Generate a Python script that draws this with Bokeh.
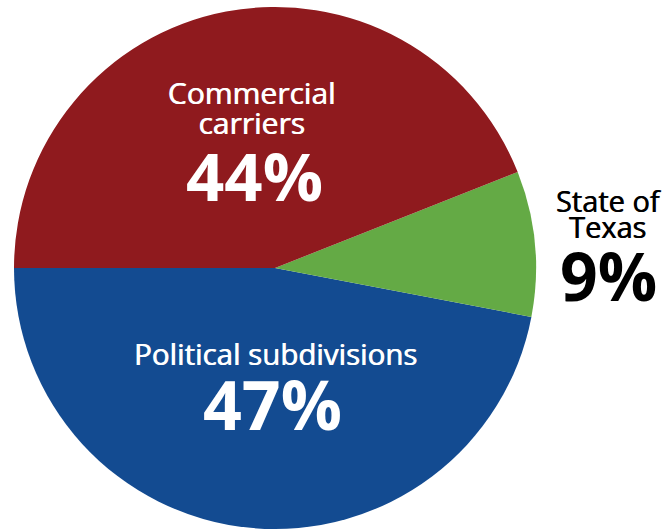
import math
from bokeh.plotting import figure
from bokeh.models import Range1d, ColumnDataSource
from bokeh.core.properties import value
from bokeh.embed import file_html
from bokeh.resources import INLINE

# ---- data ----
categories = ["Political subdivisions", "State of Texas", "Commercial carriers"]
shares = [47, 9, 44]
colors = ["#134B91", "#64AA45", "#8F1A1E"]

# ---- layout ----
W, H = 668, 531
cx, cy, r = 274.5, H - 267.5, 261.0
FONT = "Open Sans"

p = figure(width=W, height=H, output_backend="svg", toolbar_location=None,
           x_range=Range1d(0, W), y_range=Range1d(0, H), min_border=0)
p.axis.visible = False
p.grid.visible = False
p.outline_line_color = None
p.background_fill_color = "white"
p.border_fill_color = "white"

total = sum(shares)
starts, ends = [], []
a = math.pi  # start at the left, go counter-clockwise through the bottom
for s in shares:
    starts.append(a)
    a += s / total * 2 * math.pi
    ends.append(a)

src = ColumnDataSource(dict(start=starts, end=ends, color=colors))
p.wedge(x=cx, y=cy, radius=r, start_angle="start", end_angle="end",
        fill_color="color", line_color=None, source=src)

def label(x, page_y, txt, size, color, style="normal", heavy=False):
    yy = H - page_y + 0.42 * size
    xs = [x, x + 0.7] if heavy else [x]
    for xx in xs:
        p.text(x=[xx], y=[yy], text=[txt], text_font=value(FONT),
               text_font_size=f"{size}px", text_color=color, text_font_style=style,
               text_align="center", text_baseline="alphabetic")

# Commercial carriers
label(251, 105, "Commercial", 30, "white", heavy=True)
label(251, 135, "carriers", 30, "white", heavy=True)
label(254, 203, f"{shares[2]}%", 67, "white", "bold")
# Political subdivisions
label(275, 365, "Political subdivisions", 29.5, "white", heavy=True)
label(272, 432, f"{shares[0]}%", 68, "white", "bold")
# State of Texas
label(607, 212, "State of", 29, "black", heavy=True)
label(607, 238, "Texas", 29, "black", heavy=True)
label(608, 302, f"{shares[1]}%", 66, "black", "bold")

open("out.html", "w").write(file_html(p, INLINE))
